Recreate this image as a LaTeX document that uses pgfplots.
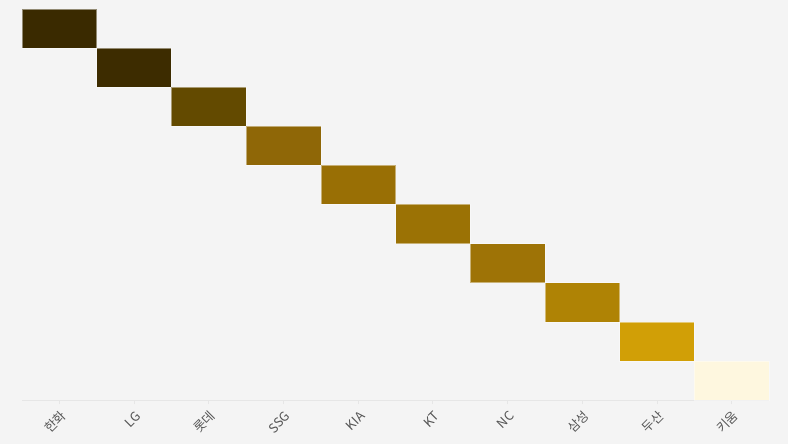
\documentclass[border=0pt]{standalone}
\usepackage{pgfplots}
\pgfplotsset{compat=1.18}
\usepackage{fontspec}
\setmainfont{Noto Sans CJK KR}
\newfontfamily\cjk{Noto Sans CJK KR}
\definecolor{bg}{HTML}{F4F4F4}
\definecolor{c0}{HTML}{3A2A00}
\definecolor{c1}{HTML}{3D2C00}
\definecolor{c2}{HTML}{634A00}
\definecolor{c3}{HTML}{8F6707}
\definecolor{c4}{HTML}{996F05}
\definecolor{c5}{HTML}{9B7205}
\definecolor{c6}{HTML}{9E7306}
\definecolor{c7}{HTML}{AF8305}
\definecolor{c8}{HTML}{D19F06}
\definecolor{c9}{HTML}{FEF7DF}
\definecolor{axc}{HTML}{E6E6E6}
\definecolor{lab}{HTML}{555555}
\begin{document}
\begin{tikzpicture}
\fill[bg] (0,0) rectangle (788pt,444pt);
\useasboundingbox (0,0) rectangle (788pt,444pt);
\begin{axis}[
  at={(22pt,44pt)}, anchor=south west,
  scale only axis, width=747pt, height=391pt,
  xmin=-0.5, xmax=9.5, ymin=-0.5, ymax=9.5,
  y dir=reverse,
  axis line style={draw=none},
  axis x line*=bottom, axis y line=none,
  xtick={0,...,9},
  xticklabels={한화,LG,롯데,SSG,KIA,KT,NC,삼성,두산,키움},
  xticklabel style={xshift=5pt, yshift=-9pt, rotate=45, anchor=east, font=\cjk\fontsize{12.8}{14}\selectfont, text=lab, inner sep=1pt},
  major tick length=4pt,
  tick align=outside,
  x tick style={draw=axc, line width=0.8pt},
  ytick=\empty,
  clip=false,
  cell/.style={draw=white, draw opacity=0.45, line width=0.6pt},
]
\draw[axc, line width=0.8pt] (axis cs:-0.5,9.5) -- (axis cs:9.5,9.5);
\addplot[cell, fill=c0] coordinates {(-0.5,-0.5) (0.5,-0.5) (0.5,0.5) (-0.5,0.5)} -- cycle;
\addplot[cell, fill=c1] coordinates {(0.5,0.5) (1.5,0.5) (1.5,1.5) (0.5,1.5)} -- cycle;
\addplot[cell, fill=c2] coordinates {(1.5,1.5) (2.5,1.5) (2.5,2.5) (1.5,2.5)} -- cycle;
\addplot[cell, fill=c3] coordinates {(2.5,2.5) (3.5,2.5) (3.5,3.5) (2.5,3.5)} -- cycle;
\addplot[cell, fill=c4] coordinates {(3.5,3.5) (4.5,3.5) (4.5,4.5) (3.5,4.5)} -- cycle;
\addplot[cell, fill=c5] coordinates {(4.5,4.5) (5.5,4.5) (5.5,5.5) (4.5,5.5)} -- cycle;
\addplot[cell, fill=c6] coordinates {(5.5,5.5) (6.5,5.5) (6.5,6.5) (5.5,6.5)} -- cycle;
\addplot[cell, fill=c7] coordinates {(6.5,6.5) (7.5,6.5) (7.5,7.5) (6.5,7.5)} -- cycle;
\addplot[cell, fill=c8] coordinates {(7.5,7.5) (8.5,7.5) (8.5,8.5) (7.5,8.5)} -- cycle;
\addplot[cell, fill=c9] coordinates {(8.5,8.5) (9.5,8.5) (9.5,9.5) (8.5,9.5)} -- cycle;
\end{axis}
\end{tikzpicture}
\end{document}
